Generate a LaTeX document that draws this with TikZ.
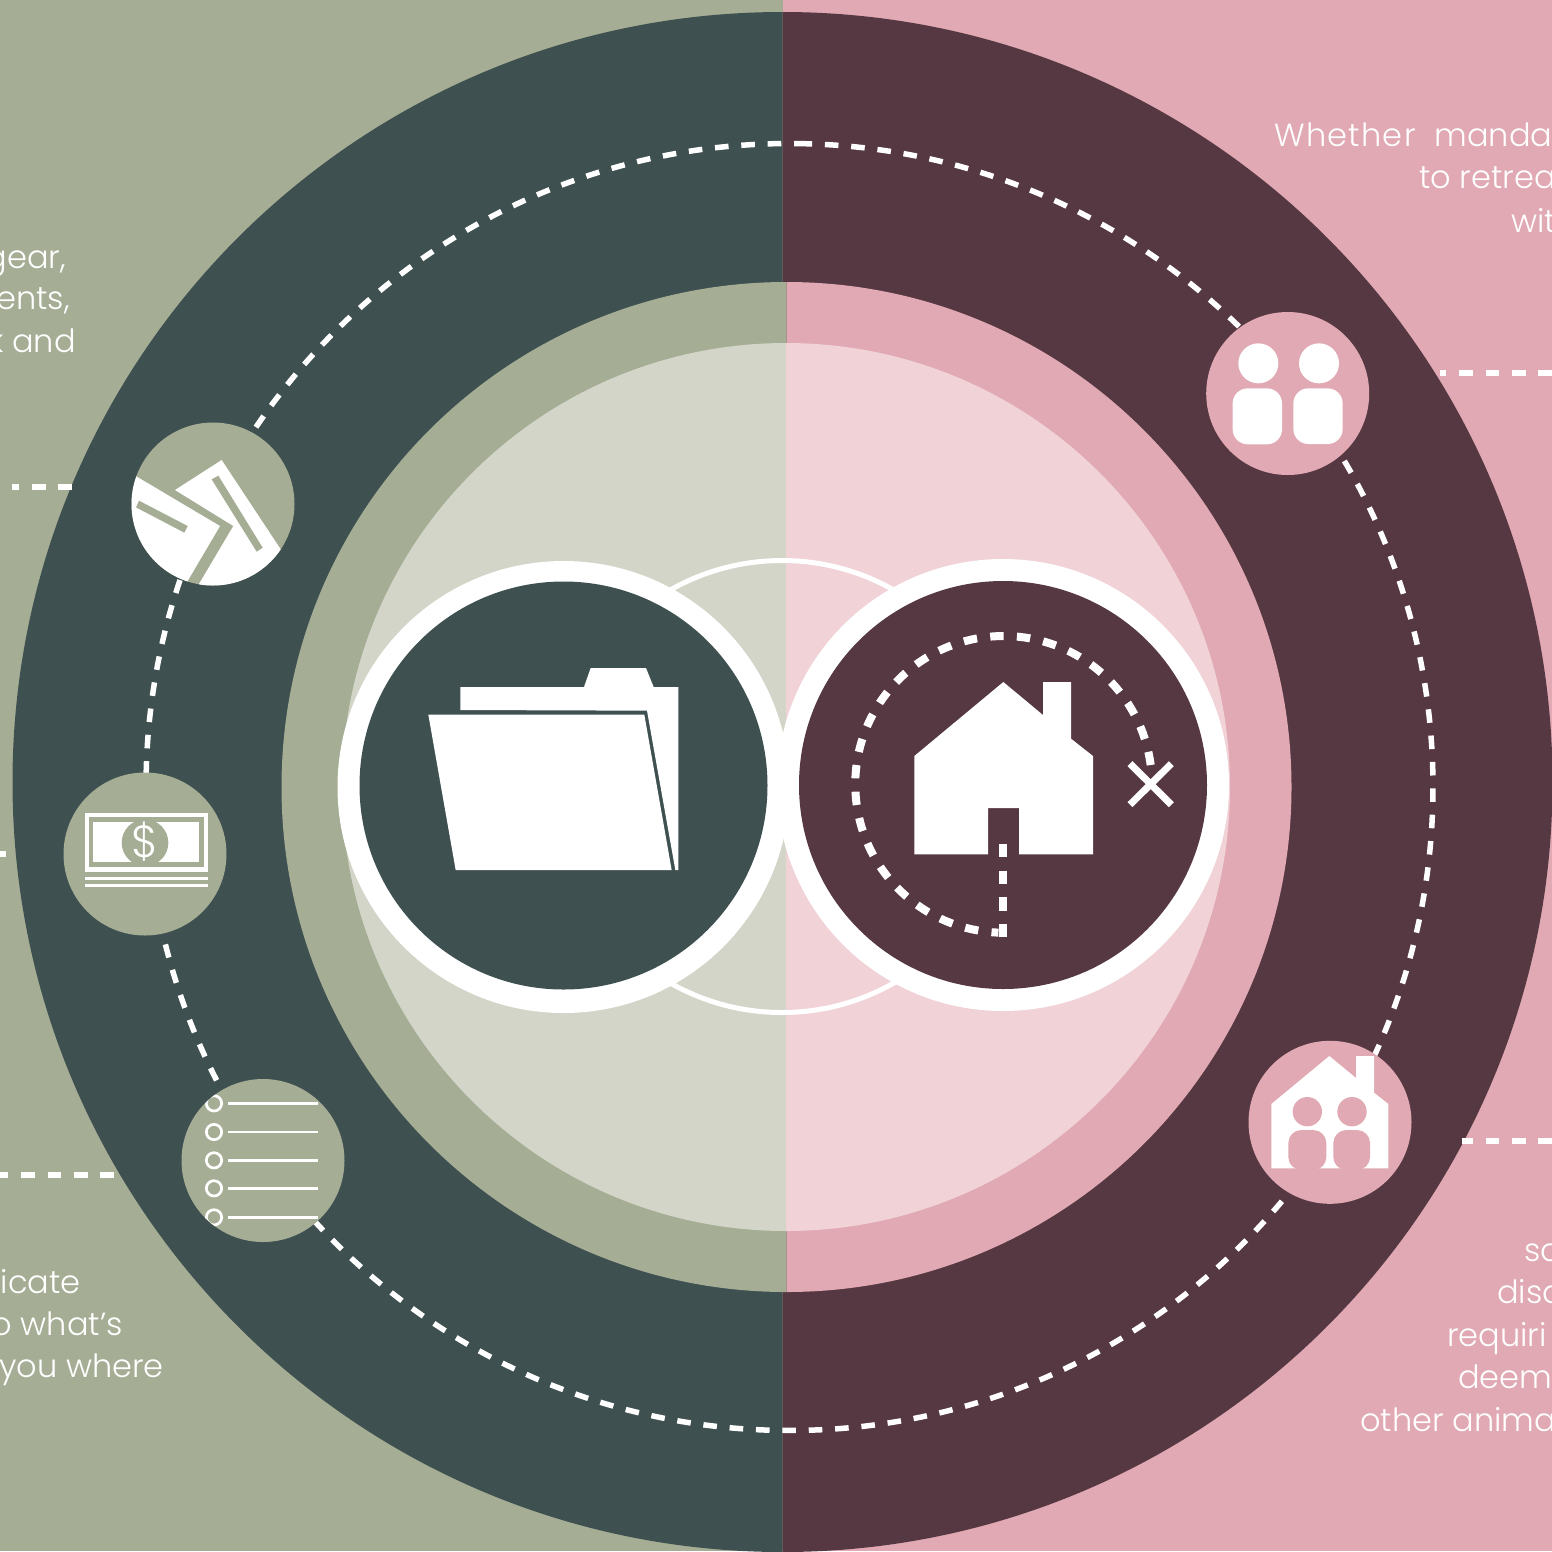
\documentclass[tikz,border=0pt]{standalone}
\usepackage{fontspec}
\setmainfont{Poppins Light}
\definecolor{lgreen}{HTML}{A5AD95}
\definecolor{dgreen}{HTML}{3F5051}
\definecolor{maroon}{HTML}{563843}
\definecolor{rosepk}{HTML}{E0A9B3}
\definecolor{pgreen}{HTML}{D2D5C8}
\definecolor{ppink}{HTML}{F0D2D7}
\tikzset{
  caption/.style={text=white,inner sep=0pt,font=\fontsize{32}{32}\selectfont},
  capL/.style={caption,anchor=base east},
  capR/.style={caption,anchor=base west},
  ringdash/.style={draw=white,line width=5.5pt,dash pattern=on 13.6pt off 12.8pt},
  zoomed/.style={x=0.33333pt,y=-0.33333pt},
}
\begin{document}
\begin{tikzpicture}[x=1pt,y=-1pt]
\useasboundingbox (0,0) rectangle (1552,1551);
\clip (0,0) rectangle (1552,1551);
% backgrounds
\fill[lgreen] (0,0) rectangle (783,1551);
\fill[rosepk] (783,0) rectangle (1552,1551);
% outer ring
\fill[dgreen] (782.5,12) arc[start angle=-90,end angle=-270,radius=770] -- cycle;
\fill[maroon] (782.5,12) arc[start angle=-90,end angle=90,radius=770] -- cycle;
% middle
\fill[lgreen] (786.5,282) arc[start angle=-90,end angle=-270,radius=505] -- cycle;
\fill[rosepk] (786.5,282) arc[start angle=-90,end angle=90,radius=505] -- cycle;
% inner
\fill[pgreen] (786,343) arc[start angle=-90,end angle=-270,radius=444] -- cycle;
\fill[ppink] (786,343) arc[start angle=-90,end angle=90,radius=444] -- cycle;
% centre rings
\draw[white,line width=5pt] (782,786.5) circle[radius=226];
\fill[white] (563.5,787) circle[radius=226];
\fill[white] (1003,785) circle[radius=226];
\fill[dgreen] (563.5,785.5) circle[radius=204];
\fill[maroon] (1003,785) circle[radius=204];
% dashed orbit
\draw[ringdash] ([shift={(-89.2:643.5)}]789.5,787) arc[start angle=-89.2,end angle=270.8,radius=643.5];
% stubs
\draw[ringdash] (1552,373) -- (1440,373);
\draw[ringdash] (1552,1141) -- (1462,1141);
\draw[ringdash] (72,487) -- (12,487);
\draw[ringdash] (6,854) -- (-8,854);
\draw[ringdash] (114,1175) -- (0,1175);
% satellites
\fill[rosepk] (1287.7,393.5) circle[radius=81.5];
\fill[rosepk] (1330,1122.3) circle[radius=81.5];
\fill[lgreen] (213,504) circle[radius=81.5];
\fill[lgreen] (145,854) circle[radius=81.5];
\fill[lgreen] (263,1160.5) circle[radius=81.5];
% papers icon
\begin{scope}
\clip (213,504) circle[radius=81.5];
\begin{scope}[shift={(100,400)},zoomed]
\fill[white] (225,270) -- (365,180) -- (640,596) -- (250,631) -- (400,378) -- cycle;
\fill[lgreen] (335,238) -- (355,227) -- (488,443) -- (470,455) -- cycle;
\fill[white] (60,200) -- (360,378) -- (200,650) -- (60,650) -- cycle;
\fill[lgreen] (117,302) -- (263,378) -- (253,398) -- (108,322) -- cycle;
\end{scope}
\end{scope}
% money icon
\begin{scope}[shift={(50,760)},zoomed]
\fill[white] (105,158) rectangle (473,335);
\fill[lgreen] (117,170) rectangle (461,320);
\fill[white] (130,185) rectangle (446,305);
\begin{scope}
\clip (117,185) rectangle (461,305);
\fill[lgreen] (285,248) circle[radius=70];
\end{scope}
\node[text=white,inner sep=0pt,font=\fontsize{45}{45}\selectfont] (dollar) at (285,244) {\$};
\fill[white] (105,351) rectangle (473,360);
\fill[white] (105,372) rectangle (473,381);
\end{scope}
% list icon
\begin{scope}
\clip (263,1160.5) circle[radius=81.5];
\begin{scope}[shift={(50,760)},zoomed]
\foreach \yy in {1030,1116,1201,1285,1372}{
  \draw[white,line width=2.7pt] (492,\yy) circle[radius=23];
  \draw[white,line width=2.7pt] (534,\yy) -- (804,\yy);
}
\end{scope}
\end{scope}
% people icon
\begin{scope}[shift={(1190,300)},zoomed]
\fill[white] (205,190) circle[radius=60];
\fill[white] (387,190) circle[radius=60];
\fill[white,rounded corners=15pt] (128,265) rectangle (276,433);
\fill[white,rounded corners=15pt] (310,265) rectangle (458,432);
\end{scope}
% family house icon
\begin{scope}[shift={(1230,1030)},zoomed]
\fill[white] (124,222) -- (298,78) -- (378,144) -- (378,78) -- (432,78) -- (432,188) -- (475,222) -- (475,415) -- (124,415) -- cycle;
\fill[rosepk] (232,245) circle[radius=44];
\fill[rosepk] (366,245) circle[radius=44];
\fill[rosepk,rounded corners=13pt] (175,300) rectangle (289,420);
\fill[rosepk,rounded corners=13pt] (310,300) rectangle (420,420);
\end{scope}
% folder icon
\begin{scope}[shift={(400,640)},zoomed]
\fill[white] (181,141) -- (552,141) -- (572,84) -- (738,84) -- (761,141) -- (835,141) -- (835,690) -- (826,690) -- (741,212) -- (181,210) -- cycle;
\fill[white] (85,224) -- (733,224) -- (815,690) -- (167,690) -- cycle;
\end{scope}
% home icon
\begin{scope}[shift={(830,610)},zoomed]
\fill[white] (253,438) -- (520,216) -- (639,315) -- (639,216) -- (723,216) -- (723,386) -- (789,438) -- (789,733) -- (567,733) -- (567,594) -- (474,594) -- (474,733) -- (253,733) -- cycle;
\draw[white,line width=8pt,dash pattern=on 13.4pt off 13.3pt] (519,702) -- (519,982);
\draw[white,line width=8pt,dash pattern=on 13.4pt off 13.3pt] (962,465) arc[start angle=-7.5,end angle=-268,radius=445];
\draw[white,line width=7pt] (900,461) -- (1024,584);
\draw[white,line width=7pt] (1024,461) -- (900,584);
\end{scope}
% captions
\node[capR] (r1) at (1274,146) {{\addfontfeature{LetterSpace=4}Whether}\hspace{10pt} manda};
\node[capR] (r2) at (1419,188) {to retrea};
\node[capR] (r3) at (1511,232) {wit};
\node[capR] (r4) at (1524,1261) {sa};
\node[capR] (r5) at (1497,1303) {disa};
\node[capR] (r6) at (1447,1346) {requiri};
\node[capR] (r7) at (1458,1388) {deem};
\node[capR] (r8) at (1360,1431) {other anima};
\node[capL] (l1) at (66,268) {gear,};
\node[capL] (l2) at (70,309) {ents,};
\node[capL] (l3) at (76,352) {k and};
\node[capL] (l4) at (81,1293) {icate};
\node[capL] (l5) at (123,1335) {o what’s};
\node[capL] (l6) at (164,1377) {you where};
\end{tikzpicture}
\end{document}
